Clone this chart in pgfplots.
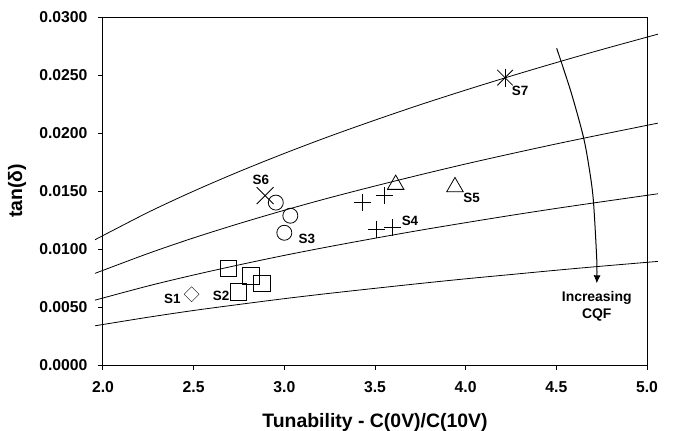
\documentclass[border=0pt]{standalone}
\usepackage{fontspec}
\setmainfont{Liberation Sans}
\usepackage{pgfplots}
\pgfplotsset{compat=1.18}
\usetikzlibrary{arrows.meta}
\tikzset{lbl/.style={font=\fontsize{13.5}{15}\selectfont\bfseries}}

\begin{document}
\begin{tikzpicture}
\begin{axis}[
  scale only axis, width=544bp, height=348bp,
  at={(0,0)}, anchor=south west,
  xmin=2, xmax=5, ymin=0, ymax=0.03,
  xtick={2,2.5,3,3.5,4,4.5,5},
  ytick={0,0.005,0.01,0.015,0.02,0.025,0.03},
  tick align=outside, xtick pos=bottom, ytick pos=left,
  major tick length=5bp,
  clip=false,
  scaled y ticks=false,
  /pgf/number format/assume math mode=true,
  xticklabel style={yshift=-8bp, /pgf/number format/fixed, /pgf/number format/fixed zerofill, /pgf/number format/precision=1},
  yticklabel style={xshift=-7bp, /pgf/number format/fixed, /pgf/number format/fixed zerofill, /pgf/number format/precision=4},
  ticklabel style={font=\fontsize{15.8}{18}\selectfont\bfseries},
  label style={font=\fontsize{19.5}{23}\selectfont\bfseries},
  xlabel={Tunability - C(0V)/C(10V)},
  ylabel={tan(δ)},
  xlabel style={at={(axis description cs:0.5,-0.164)}, anchor=center},
  ylabel style={at={(axis description cs:-0.158,0.5)}, anchor=center},
  axis line style={line width=1bp},
  every tick/.style={black, line width=1bp},
  cqf/.style={black, line width=0.8bp, smooth, no marks},
  pt/.style={black, only marks, mark options={line width=0.8bp, fill=none}},
]

% constant-CQF contours
\addplot[cqf] coordinates {(1.956,0.01080) (2.25,0.01317) (2.5,0.01499) (2.75,0.01667) (3.0,0.01824) (3.25,0.01972) (3.5,0.02111) (3.75,0.02244) (4.0,0.02370) (4.25,0.02491) (4.5,0.02607) (4.75,0.02719) (5.06,0.02852)};
\addplot[cqf] coordinates {(1.956,0.00790) (2.25,0.00962) (2.5,0.01096) (2.75,0.01219) (3.0,0.01334) (3.25,0.01442) (3.5,0.01543) (3.75,0.01640) (4.0,0.01733) (4.25,0.01821) (4.5,0.01906) (4.75,0.01987) (5.06,0.02085)};
\addplot[cqf] coordinates {(1.956,0.00559) (2.25,0.00682) (2.5,0.00776) (2.75,0.00863) (3.0,0.00945) (3.25,0.01021) (3.5,0.01093) (3.75,0.01162) (4.0,0.01227) (4.25,0.01290) (4.5,0.01350) (4.75,0.01407) (5.06,0.01476)};
\addplot[cqf] coordinates {(1.956,0.00338) (2.25,0.00412) (2.5,0.00470) (2.75,0.00522) (3.0,0.00572) (3.25,0.00618) (3.5,0.00661) (3.75,0.00703) (4.0,0.00743) (4.25,0.00780) (4.5,0.00817) (4.75,0.00852) (5.06,0.00893)};

% S1
\addplot[pt, mark=square, mark size=5.3bp, mark options={rotate=45}] coordinates {(2.489,0.0061)};
% S2
\addplot[pt, mark=square, mark size=8.3bp] coordinates {(2.691,0.00833) (2.816,0.00767) (2.875,0.00704) (2.746,0.00632)};
% S3
\addplot[pt, mark=o, mark size=7.5bp] coordinates {(2.953,0.0140) (3.033,0.01287) (3.0,0.0114)};
% S4
\addplot[pt, mark=+, mark size=8.5bp] coordinates {(3.430,0.01402) (3.550,0.0146) (3.510,0.01172) (3.596,0.01184)};
% S5
\addplot[pt, mark=triangle, mark size=9.5bp] coordinates {(3.614,0.01555) (3.941,0.01535)};
% S6
\addplot[pt, mark=x, mark size=12bp] coordinates {(2.894,0.0146)};
% S7 (star = cross + vertical bar)
\addplot[pt, mark=x, mark size=11bp] coordinates {(4.217,0.02477)};
\addplot[pt, mark=|, mark size=9bp] coordinates {(4.217,0.02477)};

\node[lbl] at (axis cs:2.382,0.00569) {S1};
\node[lbl] at (axis cs:2.651,0.00598) {S2};
\node[lbl] at (axis cs:3.124,0.01083) {S3};
\node[lbl] at (axis cs:3.693,0.01244) {S4};
\node[lbl] at (axis cs:4.033,0.01437) {S5};
\node[lbl] at (axis cs:2.871,0.0160) {S6};
\node[lbl] at (axis cs:4.300,0.02362) {S7};

% direction of increasing CQF
\addplot[black, line width=1bp, smooth, no marks, -{Latex[length=8bp,width=7bp]}]
  coordinates {(4.502,0.02730) (4.581,0.02353) (4.649,0.01968) (4.681,0.01698) (4.704,0.01422) (4.723,0.00905) (4.723,0.00704)};
\node[font=\fontsize{14}{16}\selectfont\bfseries, anchor=base] at (axis cs:4.723,0.00546) {Increasing};
\node[font=\fontsize{14}{16}\selectfont\bfseries, anchor=base] at (axis cs:4.723,0.00397) {CQF};
\end{axis}
\pgfresetboundingbox
\path (-103bp,-66bp) rectangle (573bp,365bp);
\end{tikzpicture}
\end{document}
